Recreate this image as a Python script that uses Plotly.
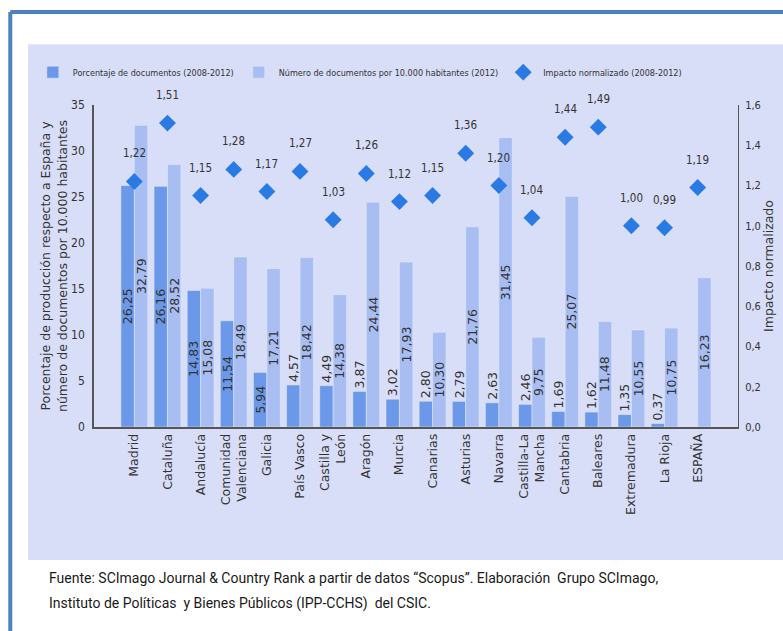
import plotly.graph_objects as go

categories = ["Madrid", "Cataluña", "Andalucía", "Comunidad<br>Valenciana", "Galicia",
              "País Vasco", "Castilla y<br>León", "Aragón", "Murcia", "Canarias",
              "Asturias", "Navarra", "Castilla-La<br>Mancha", "Cantabria", "Baleares",
              "Extremadura", "La Rioja", "ESPAÑA"]
pct_docs = [26.25, 26.16, 14.83, 11.54, 5.94, 4.57, 4.49, 3.87, 3.02, 2.80, 2.79,
            2.63, 2.46, 1.69, 1.62, 1.35, 0.37, None]
docs_10k = [32.79, 28.52, 15.08, 18.49, 17.21, 18.42, 14.38, 24.44, 17.93, 10.30,
            21.76, 31.45, 9.75, 25.07, 11.48, 10.55, 10.75, 16.23]
impact = [1.22, 1.51, 1.15, 1.28, 1.17, 1.27, 1.03, 1.26, 1.12, 1.15, 1.36, 1.20,
          1.04, 1.44, 1.49, 1.00, 0.99, 1.19]

names = ["Porcentaje de documentos (2008-2012)",
         "Número de documentos por 10.000 habitantes (2012)",
         "Impacto normalizado (2008-2012)"]

DARK = "#6B98E8"
LIGHT = "#A8BEF3"
DIAM = "#2A7AE4"
PANEL = "#D8DEF8"
NARROW = "DejaVu Sans Condensed, Liberation Sans Narrow, Roboto, sans-serif"
WIDE = "DejaVu Sans, Verdana, sans-serif"
FOOT = "Roboto, sans-serif"
TXT = "#333333"

pct_pos = ["inside" if (v is not None and v > 5) else "outside" for v in pct_docs]

fig = go.Figure()
fig.add_trace(go.Bar(
    x=categories, y=pct_docs, name=names[0], marker_color=DARK,
    texttemplate="%{y:.2f}", textposition=pct_pos, textangle=-90,
    insidetextanchor="middle", cliponaxis=False, constraintext="none",
    textfont=dict(family=WIDE, size=12.5, color=TXT),
))
fig.add_trace(go.Bar(
    x=categories, y=docs_10k, name=names[1], marker_color=LIGHT,
    texttemplate="%{y:.2f}", textposition="inside", textangle=-90,
    insidetextanchor="middle", constraintext="none",
    textfont=dict(family=WIDE, size=12.5, color=TXT),
))
fig.add_trace(go.Scatter(
    x=categories, y=impact, name=names[2], yaxis="y2", mode="markers",
    marker=dict(symbol="diamond", size=13, color=DIAM), cliponaxis=False,
))

annotations = []
for c, v in zip(categories, impact):
    annotations.append(dict(
        x=c, y=v, xref="x", yref="y2", text=f"{v:.2f}".replace(".", ","),
        showarrow=False, yshift=28, font=dict(family=NARROW, size=11.5, color=TXT)))

annotations.append(dict(
    x=-0.073, y=-0.469, xref="paper", yref="paper", xanchor="left", yanchor="middle",
    showarrow=False, align="left",
    text="Fuente: SCImago Journal & Country Rank a partir de datos “Scopus”. Elaboración  Grupo SCImago,",
    font=dict(family=FOOT, size=14, color="#1a1a1a")))
annotations.append(dict(
    x=-0.073, y=-0.547, xref="paper", yref="paper", xanchor="left", yanchor="middle",
    showarrow=False, align="left",
    text="Instituto de Políticas  y Bienes Públicos (IPP-CCHS)  del CSIC.",
    font=dict(family=FOOT, size=14, color="#1a1a1a")))

shapes = [
    dict(type="rect", xref="paper", yref="paper", x0=-0.1025, x1=1.08, y0=-0.413, y1=1.189,
         fillcolor=PANEL, line=dict(width=0), layer="below"),
    dict(type="line", xref="paper", yref="paper", x0=-0.130, x1=-0.130, y0=-0.70, y1=1.289,
         line=dict(color="#4F81BD", width=4)),
    dict(type="line", xref="paper", yref="paper", x0=-0.130, x1=1.10, y0=1.289, y1=1.289,
         line=dict(color="#4F81BD", width=4)),
]

fig.update_layout(
    width=783, height=631,
    margin=dict(l=94, r=45, t=105, b=204, autoexpand=False),
    paper_bgcolor="white", plot_bgcolor=PANEL,
    separators=",.",
    barmode="group", bargap=0.19, bargroupgap=0,
    showlegend=True,
    legend=dict(orientation="h", x=-0.095, xanchor="left", y=1.102, yanchor="middle",
                font=dict(family=NARROW, size=9, color=TXT), bgcolor="rgba(0,0,0,0)",
                itemwidth=30, tracegroupgap=0),
    xaxis=dict(tickangle=-90, showline=True, linecolor="#555555", linewidth=1.5,
               ticks="", tickfont=dict(family=WIDE, size=12.5, color=TXT), showgrid=False),
    yaxis=dict(range=[0, 35], dtick=5, showline=True, linecolor="#555555", linewidth=1.5,
               ticks="", showgrid=False, zeroline=False, ticklabelstandoff=5,
               tickfont=dict(family=NARROW, size=12, color=TXT),
               title=dict(text="Porcentaje de producción respecto a España y<br>número de documentos por 10.000 habitantes",
                          font=dict(family=WIDE, size=12.5, color=TXT), standoff=1)),
    yaxis2=dict(range=[0, 1.6], dtick=0.2, tickformat=".1f", overlaying="y", side="right",
                showline=True, linecolor="#555555", linewidth=1, ticks="", showgrid=False,
                zeroline=False, ticklabelstandoff=4,
                tickfont=dict(family=NARROW, size=11, color=TXT),
                title=dict(text="Impacto normalizado", font=dict(family=WIDE, size=12.5, color=TXT),
                           standoff=0)),
    annotations=annotations,
    shapes=shapes,
)

fig.write_html("out.html", config={"displayModeBar": False},
               post_script="document.body.style.margin='0px';")
